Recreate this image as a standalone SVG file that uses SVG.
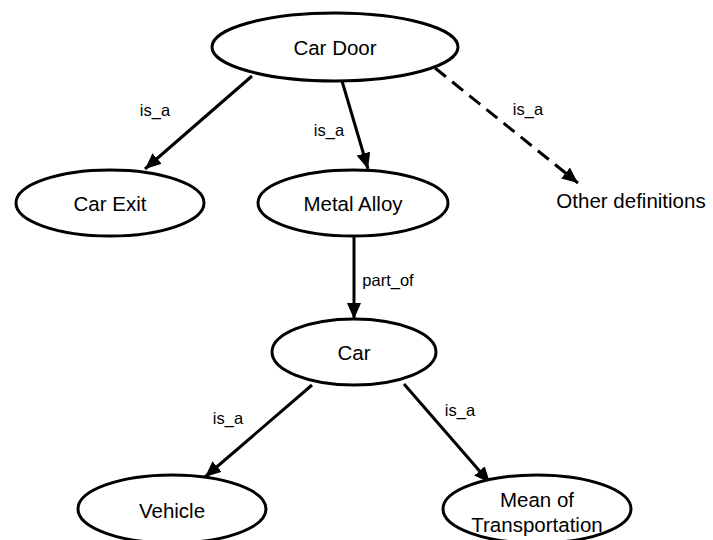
<svg xmlns="http://www.w3.org/2000/svg" width="713" height="540" viewBox="0 0 713 540">
<style>
.node ellipse{fill:#fff;stroke:#000;stroke-width:3}
.node text{font-family:"Liberation Sans",Arial,sans-serif;font-size:20.5px;fill:#000;text-anchor:middle;dominant-baseline:central}
.edge{stroke:#000;stroke-width:3;fill:none;marker-end:url(#arrow)}
.dash{stroke-dasharray:14 8}
.lbl{font-family:"Liberation Sans",Arial,sans-serif;font-size:16.5px;fill:#000;text-anchor:middle;dominant-baseline:central}
</style>
<defs>
<marker id="arrow" markerUnits="userSpaceOnUse" markerWidth="16" markerHeight="14" viewBox="0 0 16 14" refX="16" refY="7" orient="auto">
<path d="M0,0 L16,7 L0,14 Z" fill="#000"/>
</marker>
</defs>
<rect width="713" height="540" fill="#fff"/>
<g id="connectors">
<line class="edge" x1="252" y1="76" x2="145" y2="169"/>
<line class="edge" x1="342" y1="81" x2="368" y2="169"/>
<line class="edge dash" x1="435" y1="68" x2="578" y2="183"/>
<line class="edge" x1="354" y1="237" x2="354" y2="319"/>
<line class="edge" x1="312" y1="385" x2="205" y2="477"/>
<line class="edge" x1="404" y1="384" x2="490" y2="483"/>
<text class="lbl" x="155" y="110">is_a</text>
<text class="lbl" x="329" y="130">is_a</text>
<text class="lbl" x="528" y="109">is_a</text>
<text class="lbl" x="388" y="280">part_of</text>
<text class="lbl" x="228" y="418">is_a</text>
<text class="lbl" x="460" y="410">is_a</text>
</g>
<g id="car-door" class="node"><ellipse cx="335" cy="47" rx="123" ry="34"/><text x="335" y="47">Car Door</text></g>
<g id="car-exit" class="node"><ellipse cx="110" cy="203" rx="94" ry="33"/><text x="110" y="203">Car Exit</text></g>
<g id="metal-alloy" class="node"><ellipse cx="353" cy="203" rx="95" ry="33"/><text x="353" y="203">Metal Alloy</text></g>
<g id="other-definitions" class="node"><text x="631" y="200">Other definitions</text></g>
<g id="car" class="node"><ellipse cx="354" cy="352" rx="82" ry="33"/><text x="354" y="352">Car</text></g>
<g id="vehicle" class="node"><ellipse cx="172" cy="509" rx="94" ry="34"/><text x="172" y="510">Vehicle</text></g>
<g id="mean-of-transportation" class="node"><ellipse cx="537" cy="509" rx="94" ry="34"/><text x="537" y="499">Mean of</text><text x="537" y="524">Transportation</text></g>
</svg>
